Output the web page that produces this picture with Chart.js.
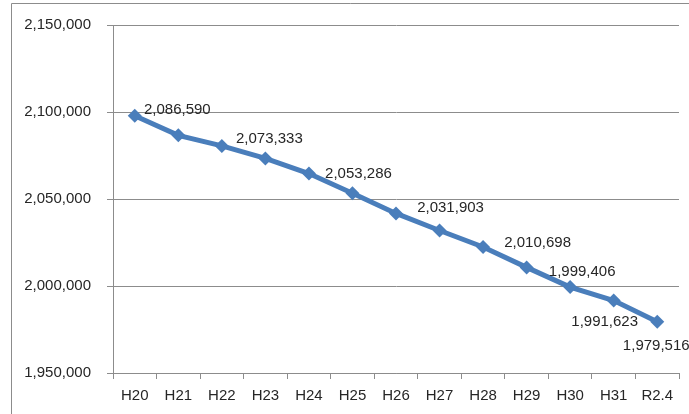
<!DOCTYPE html>
<html>
<head>
<meta charset="utf-8">
<script src="https://cdn.jsdelivr.net/npm/chart.js@4.4.1/dist/chart.umd.min.js"></script>
<style>
  html, body { margin: 0; padding: 0; background: #fff; }
  #wrap { width: 689px; height: 414px; position: relative; }
</style>
</head>
<body>
<div id="wrap"><canvas id="chart"></canvas></div>
<script>
// 年度
const categories = ['H20', 'H21', 'H22', 'H23', 'H24', 'H25', 'H26', 'H27', 'H28', 'H29', 'H30', 'H31', 'R2.4'];
// 値（ラベルの無い点はグラフから読み取り）
const values = [2097800, 2086590, 2080500, 2073333, 2064600, 2053286, 2041700, 2031903, 2022400, 2010698, 1999406, 1991623, 1979516];
// 表示するデータラベル
const shownLabels = [false, true, false, true, false, true, false, true, false, true, true, true, true];
const yTicks = [1950000, 2000000, 2050000, 2100000, 2150000];

// ラベルの位置ずれ（点からのpx）
const labelDx = [0, -1, 0, 4, 0, 6, 0, 11, 0, 11, 12, -9, -1];
const labelDy = [0, -25, 0, -20, 0, -19, 0, -23, 0, -25, -15, 21, 24];

const FONT = '"Liberation Sans", Arial, sans-serif';
const fmt = v => v.toLocaleString('en-US');

const frame = {
  id: 'frame',
  beforeDraw(chart) {
    const c = chart.ctx;
    c.save();
    c.strokeStyle = '#8c8c8c';
    c.lineWidth = 1;
    c.beginPath();
    c.moveTo(11.5, 414);
    c.lineTo(11.5, 3.5);
    c.lineTo(689, 3.5);
    c.stroke();
    c.restore();
  }
};

const pointLabels = {
  id: 'pointLabels',
  afterDatasetsDraw(chart) {
    const c = chart.ctx;
    const meta = chart.getDatasetMeta(0);
    c.save();
    c.font = '15px ' + FONT;
    c.fillStyle = '#262626';
    c.textAlign = 'center';
    c.textBaseline = 'middle';
    meta.data.forEach((pt, i) => {
      if (!shownLabels[i]) return;
      c.fillText(fmt(values[i]), pt.x + labelDx[i], pt.y + labelDy[i]);
    });
    c.restore();
  }
};

new Chart(document.getElementById('chart'), {
  type: 'line',
  data: {
    labels: categories,
    datasets: [{
      data: values,
      borderColor: '#4a7ebb',
      backgroundColor: '#4a7ebb',
      borderWidth: 5,
      pointStyle: 'rectRot',
      pointRadius: 7,
      pointBorderWidth: 0,
      tension: 0,
      fill: false
    }]
  },
  options: {
    responsive: true,
    maintainAspectRatio: false,
    animation: false,
    layout: { padding: { left: 0, top: 24, right: 10, bottom: 0 } },
    plugins: { legend: { display: false }, tooltip: { enabled: false } },
    scales: {
      x: {
        offset: true,
        afterFit: s => { s.height = 41; },
        grid: { offset: true, drawOnChartArea: false, drawTicks: true, tickLength: 6, color: '#8c8c8c' },
        border: { color: '#8c8c8c' },
        ticks: { font: { family: FONT, size: 15 }, color: '#262626', padding: 8, maxRotation: 0, autoSkip: false }
      },
      y: {
        min: 1950000,
        max: 2150000,
        afterFit: s => { s.width = 113; },
        afterBuildTicks: s => { s.ticks = yTicks.map(v => ({ value: v })); },
        grid: { color: '#8c8c8c', tickLength: 6 },
        border: { color: '#8c8c8c' },
        ticks: { font: { family: FONT, size: 15 }, color: '#262626', padding: 16, callback: v => fmt(v) }
      }
    }
  },
  plugins: [frame, pointLabels]
});
</script>
</body>
</html>
